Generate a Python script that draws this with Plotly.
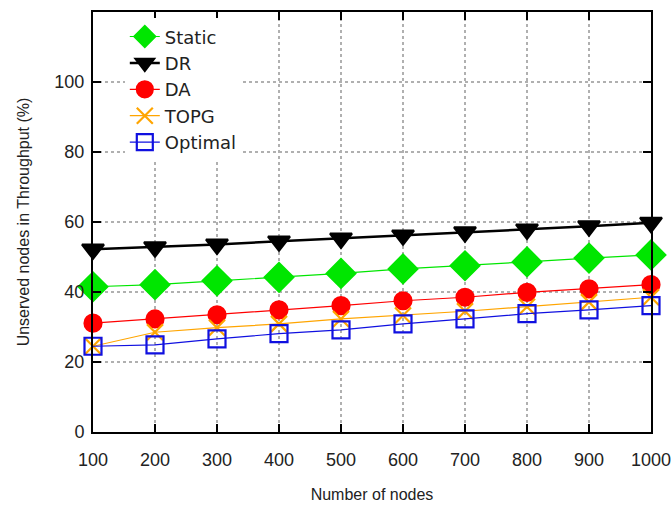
import plotly.graph_objects as go

nodes = [100, 200, 300, 400, 500, 600, 700, 800, 900, 1000]
static = [41.5, 42.1, 43.2, 44.2, 45.3, 46.6, 47.5, 48.6, 49.7, 50.6]
dr = [52.2, 52.8, 53.6, 54.5, 55.3, 56.2, 57.1, 57.9, 58.8, 59.8]
da = [31.1, 32.3, 33.5, 34.9, 36.1, 37.5, 38.5, 39.9, 40.9, 42.1]
topg = [24.5, 28.5, 29.8, 30.9, 32.3, 33.3, 34.5, 35.8, 37.1, 38.5]
optimal = [24.5, 24.9, 26.6, 28.1, 29.2, 30.9, 32.3, 33.8, 34.9, 36.1]

fig = go.Figure()
series = [
    ("Static", static, "#00e600", "diamond", 22, 1.2),
    ("DR", dr, "black", "triangle-down", 19, 2.5),
    ("DA", da, "red", "circle", 17, 1.2),
    ("TOPG", topg, "orange", "x-thin-open", 16, 1.2),
    ("Optimal", optimal, "#1010e0", "square-open", 17, 1.2),
]
for name, vals, col, sym, sz, lw in series:
    fig.add_trace(go.Scatter(
        x=nodes, y=vals, name=name, mode="lines+markers",
        line=dict(color=col, width=lw),
        marker=dict(symbol=sym, size=sz, color=col,
                    line=dict(color=col, width=2.2)),
        cliponaxis=False,
    ))

font = "Liberation Sans, Arial"
axis_common = dict(
    showline=True, linecolor="black", linewidth=2, mirror="ticks",
    ticks="inside", ticklen=8, tickwidth=1.5, tickcolor="black",
    showgrid=True, gridcolor="#b0b0b0", griddash="dot", gridwidth=1.5,
    zeroline=False, automargin=False, ticklabeloverflow="allow",
    tickfont=dict(family=font, size=18, color="#222"),
)
fig.update_xaxes(range=[100, 1000], tickvals=nodes, ticklabelstandoff=10, **axis_common,
                 title=dict(text="Number of nodes", standoff=20,
                            font=dict(family=font, size=16, color="#222")))
fig.update_yaxes(range=[0, 120], tickvals=[0, 20, 40, 60, 80, 100], ticklabelstandoff=3,
                 **axis_common,
                 title=dict(text="Unserved nodes in Throughput (%)", standoff=21,
                            font=dict(family=font, size=16, color="#222")))

fig.update_layout(
    width=672, height=506,
    margin=dict(l=93, r=21, t=12, b=74),
    paper_bgcolor="white", plot_bgcolor="white",
    legend=dict(x=0.057, y=0.985, xanchor="left", yanchor="top",
                bgcolor="white", borderwidth=0,
                font=dict(family="DejaVu Sans", size=18, color="#222"),
                tracegroupgap=0, itemsizing="trace"),
    showlegend=True,
)
fig.write_html("out.html", config={"displayModeBar": False},
               post_script="document.body.style.margin='0';")
